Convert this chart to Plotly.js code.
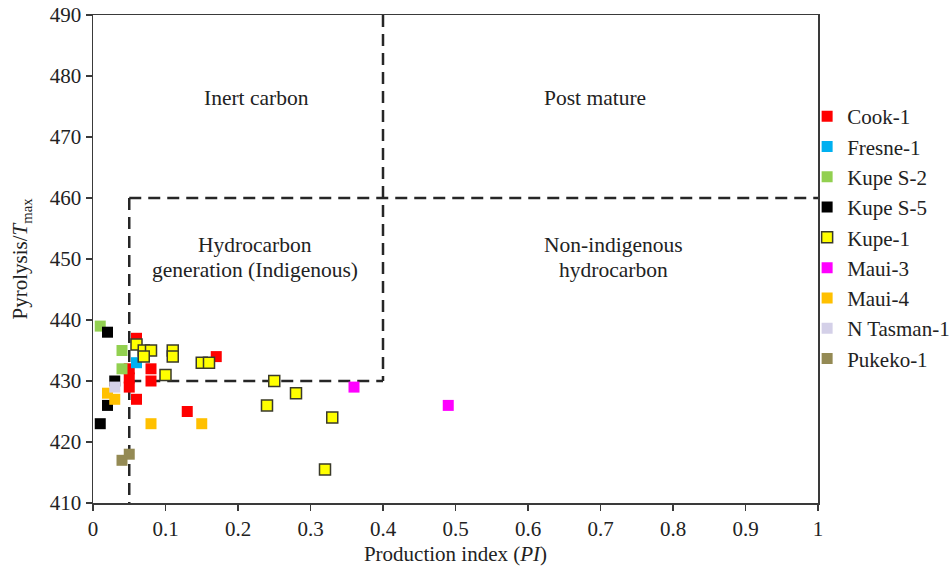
<!DOCTYPE html>
<html>
<head>
<meta charset="utf-8">
<script src="https://cdn.plot.ly/plotly-3.0.1.min.js"></script>
<style>html,body{margin:0;padding:0;background:#fff;}#chart{width:952px;height:570px;}</style>
</head>
<body>
<div id="chart"></div>
<script>
// Series data: production index (PI) and Tmax
const cook1_pi   = [0.06, 0.05, 0.05, 0.05, 0.08, 0.08, 0.17, 0.06, 0.13];
const cook1_t    = [437, 432, 430.5, 429, 432, 430, 434, 427, 425];
const fresne1_pi = [0.06];
const fresne1_t  = [433];
const kupeS2_pi  = [0.01, 0.04, 0.04];
const kupeS2_t   = [439, 435, 432];
const kupeS5_pi  = [0.02, 0.03, 0.02, 0.01];
const kupeS5_t   = [438, 430, 426, 423];
const kupe1_pi   = [0.06, 0.07, 0.08, 0.07, 0.11, 0.11, 0.15, 0.16, 0.10, 0.25, 0.24, 0.28, 0.33, 0.32];
const kupe1_t    = [436, 435, 435, 434, 435, 434, 433, 433, 431, 430, 426, 428, 424, 415.5];
const maui3_pi   = [0.36, 0.49];
const maui3_t    = [429, 426];
const maui4_pi   = [0.02, 0.03, 0.08, 0.15];
const maui4_t    = [428, 427, 423, 423];
const ntas1_pi   = [0.03];
const ntas1_t    = [429];
const pukeko1_pi = [0.04, 0.05];
const pukeko1_t  = [417, 418];

const xTicks = [0, 0.1, 0.2, 0.3, 0.4, 0.5, 0.6, 0.7, 0.8, 0.9, 1];
const xTickText = ['0', '0.1', '0.2', '0.3', '0.4', '0.5', '0.6', '0.7', '0.8', '0.9', '1'];
const yTicks = [410, 420, 430, 440, 450, 460, 470, 480, 490];

const FONT = 'Liberation Serif, Times New Roman, serif';

function sq(name, x, y, color, line) {
  return {
    type: 'scatter', mode: 'markers', name: name, x: x, y: y,
    marker: { symbol: 'square', size: 11, color: color,
              line: line ? { color: '#3a3a2a', width: 1.5 } : { width: 0 } },
    cliponaxis: false
  };
}

const traces = [
  sq('Cook-1', cook1_pi, cook1_t, '#ff0000'),
  sq('Fresne-1', fresne1_pi, fresne1_t, '#00b0f0'),
  sq('Kupe S-2', kupeS2_pi, kupeS2_t, '#92d050'),
  sq('Kupe S-5', kupeS5_pi, kupeS5_t, '#000000'),
  sq('Kupe-1', kupe1_pi, kupe1_t, '#ffff00', true),
  sq('Maui-3', maui3_pi, maui3_t, '#ff00ff'),
  sq('Maui-4', maui4_pi, maui4_t, '#ffc000'),
  sq('N Tasman-1', ntas1_pi, ntas1_t, '#d4d0e8'),
  sq('Pukeko-1', pukeko1_pi, pukeko1_t, '#948a54')
];

const dashLine = { color: '#262626', width: 2.5, dash: '12px,7px' };
const shapes = [
  { type: 'line', xref: 'x', yref: 'y', x0: 0.4, x1: 0.4, y0: 490, y1: 430, line: dashLine, layer: 'below' },
  { type: 'line', xref: 'x', yref: 'y', x0: 0.05, x1: 1, y0: 460, y1: 460, line: dashLine, layer: 'below' },
  { type: 'line', xref: 'x', yref: 'y', x0: 0.05, x1: 0.05, y0: 460, y1: 410, line: dashLine, layer: 'below' },
  { type: 'line', xref: 'x', yref: 'y', x0: 0.05, x1: 0.4, y0: 430, y1: 430, line: dashLine, layer: 'below' }
];

const annFont = { family: FONT, size: 21.5, color: '#222' };
const annotations = [
  { x: 0.2255, y: 476.4, text: 'Inert carbon' },
  { x: 0.693, y: 476.4, text: 'Post mature' },
  { x: 0.2228, y: 452.3, text: 'Hydrocarbon' },
  { x: 0.2228, y: 448.2, text: 'generation (Indigenous)' },
  { x: 0.718, y: 452.3, text: 'Non-indigenous' },
  { x: 0.718, y: 448.2, text: 'hydrocarbon' }
].map(a => Object.assign({ xref: 'x', yref: 'y', showarrow: false, font: annFont, align: 'center' }, a));

const axisCommon = {
  showline: true, linecolor: '#3a3a3a', linewidth: 1.5, mirror: true,
  ticks: 'outside', ticklen: 6, tickwidth: 1.5, tickcolor: '#3a3a3a',
  showgrid: false, zeroline: false,
  tickfont: { family: FONT, size: 21, color: '#222' }
};

const layout = {
  width: 952, height: 570,
  margin: { l: 93, r: 134, t: 15, b: 67, autoexpand: false },
  paper_bgcolor: '#fff', plot_bgcolor: '#fff',
  showlegend: true,
  legend: { x: 0.985, xanchor: 'left', y: 0.834, yanchor: 'top',
            font: { family: FONT, size: 21, color: '#222' },
            itemwidth: 30, tracegroupgap: 0, bgcolor: 'rgba(0,0,0,0)' },
  xaxis: Object.assign({}, axisCommon, {
    range: [0, 1], tickvals: xTicks, ticktext: xTickText, automargin: false,
    title: { text: 'Production index (<i>PI</i>)', font: { family: FONT, size: 21, color: '#222' }, standoff: 6 }
  }),
  yaxis: Object.assign({}, axisCommon, {
    range: [410, 490], tickvals: yTicks, automargin: false,
    title: { text: 'Pyrolysis/<i>T</i><sub>max</sub>', font: { family: FONT, size: 21, color: '#222' }, standoff: 16 }
  }),
  shapes: shapes,
  annotations: annotations
};

Plotly.newPlot('chart', traces, layout, { displayModeBar: false, staticPlot: true });
</script>
</body>
</html>
